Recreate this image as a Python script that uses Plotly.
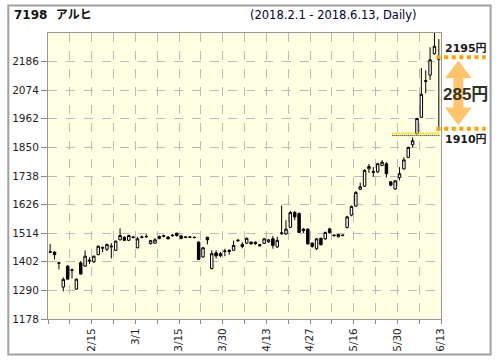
import plotly.graph_objects as go

# ---------------- data ----------------
dates = ["2/1", "2/2", "2/5", "2/6", "2/7", "2/8", "2/9", "2/13", "2/14", "2/15",
         "2/16", "2/19", "2/20", "2/21", "2/22", "2/23", "2/26", "2/27", "2/28",
         "3/1", "3/2", "3/5", "3/6", "3/7", "3/8", "3/9", "3/12", "3/13", "3/14", "3/15",
         "3/16", "3/19", "3/20", "3/22", "3/23", "3/26", "3/27", "3/28", "3/29", "3/30",
         "4/2", "4/3", "4/4", "4/5", "4/6", "4/9", "4/10", "4/11", "4/12", "4/13",
         "4/16", "4/17", "4/18", "4/19", "4/20", "4/23", "4/24", "4/25", "4/26", "4/27",
         "5/1", "5/2", "5/7", "5/8", "5/9", "5/10", "5/11", "5/14", "5/15", "5/16",
         "5/17", "5/18", "5/21", "5/22", "5/23", "5/24", "5/25", "5/28", "5/29", "5/30",
         "5/31", "6/1", "6/4", "6/5", "6/6", "6/7", "6/8", "6/11", "6/12", "6/13"]

opens = [1441, 1440, 1396, 1303, 1385, 1368, 1295, 1398, 1385, 1405,
         1402, 1430, 1455, 1451, 1460, 1447, 1488, 1498, 1486, 1497,
         1457, 1497, 1500, 1473, 1475, 1501, 1502, 1499, 1504, 1514,
         1503, 1497, 1498, 1498, 1479, 1421, 1498, 1376, 1437, 1434,
         1442, 1447, 1447, 1484, 1462, 1475, 1479, 1479, 1469, 1474,
         1480, 1492, 1460, 1512, 1511, 1537, 1595, 1591, 1530, 1530,
         1475, 1453, 1494, 1492, 1531, 1504, 1500, 1505, 1536, 1585,
         1620, 1686, 1698, 1766, 1752, 1754, 1779, 1786, 1715, 1687,
         1732, 1766, 1811, 1860, 1904, 1968, 2108, 2133, 2217, 2196]
highs = [1472, 1443, 1402, 1341, 1389, 1376, 1336, 1405, 1447, 1420,
         1426, 1466, 1462, 1473, 1475, 1485, 1533, 1502, 1508, 1502,
         1500, 1505, 1510, 1487, 1495, 1505, 1508, 1502, 1510, 1516,
         1508, 1502, 1503, 1501, 1482, 1460, 1500, 1447, 1447, 1440,
         1453, 1450, 1485, 1492, 1478, 1497, 1482, 1481, 1472, 1495,
         1490, 1503, 1500, 1622, 1565, 1601, 1601, 1595, 1533, 1533,
         1478, 1495, 1497, 1520, 1535, 1509, 1511, 1509, 1582, 1622,
         1678, 1712, 1765, 1785, 1773, 1790, 1800, 1792, 1718, 1722,
         1773, 1811, 1853, 1889, 1966, 2161, 2152, 2242, 2298, 2274]
lows = [1436, 1411, 1372, 1286, 1333, 1337, 1292, 1353, 1382, 1394,
        1398, 1428, 1440, 1445, 1415, 1445, 1486, 1484, 1484, 1494,
        1455, 1494, 1496, 1470, 1472, 1490, 1498, 1490, 1500, 1500,
        1490, 1495, 1495, 1494, 1410, 1418, 1470, 1372, 1415, 1420,
        1424, 1430, 1445, 1480, 1455, 1472, 1470, 1468, 1462, 1472,
        1477, 1453, 1457, 1508, 1508, 1535, 1565, 1515, 1515, 1470,
        1457, 1449, 1466, 1488, 1512, 1501, 1498, 1502, 1533, 1580,
        1618, 1683, 1695, 1750, 1735, 1750, 1776, 1732, 1698, 1684,
        1721, 1763, 1808, 1850, 1900, 1965, 2062, 2114, 2213, 1915]
closes = [1440, 1430, 1398, 1333, 1334, 1370, 1334, 1354, 1424, 1408,
          1424, 1463, 1458, 1470, 1463, 1483, 1505, 1486, 1505, 1499,
          1492, 1499, 1501, 1485, 1488, 1494, 1504, 1492, 1506, 1505,
          1494, 1499, 1499, 1497, 1411, 1457, 1488, 1434, 1425, 1426,
          1444, 1443, 1466, 1486, 1470, 1494, 1472, 1473, 1465, 1492,
          1488, 1466, 1486, 1515, 1530, 1595, 1578, 1517, 1524, 1472,
          1462, 1492, 1469, 1517, 1516, 1506, 1509, 1506, 1578, 1619,
          1674, 1696, 1760, 1775, 1755, 1786, 1792, 1747, 1702, 1719,
          1747, 1801, 1850, 1876, 1963, 2058, 2111, 2193, 2246, 2195]

tick_labels = ["2/15", "3/1", "3/15", "3/30", "4/13", "4/27", "5/16", "5/30", "6/13"]
y_ticks = [1178, 1290, 1402, 1514, 1626, 1738, 1850, 1962, 2074, 2186]
y_top = 2298
level_high, level_low = 2195, 1910

title_left = "7198\u00a0\u00a0アルヒ"
title_right = "(2018.2.1 - 2018.6.13, Daily)"

# ---------------- figure ----------------
W, H = 496, 364
ML, MR, MT, MB = 45, 55, 33, 41
PW, PH = W - ML - MR, H - MT - MB


def px(xp):
    return (xp - ML) / PW


def py(yp):
    return (H - MB - yp) / PH


x = list(range(len(dates)))

fig = go.Figure()
fig.add_trace(go.Candlestick(
    x=x, open=opens, high=highs, low=lows, close=closes,
    increasing=dict(line=dict(color="black", width=1), fillcolor="white"),
    decreasing=dict(line=dict(color="black", width=1), fillcolor="black"),
    whiskerwidth=0, showlegend=False, hoverinfo="skip",
))

# x ticks: every 5 trading days at candle boundaries, label every 10
tick_pos = [-0.5 + 5 * k for k in range(len(dates) // 5 + 1)]
label_pos = {dates.index(lbl) + 0.5: lbl for lbl in tick_labels}
tick_text = [label_pos.get(p, "") for p in tick_pos]

axis_font = dict(family="DejaVu Sans", size=10.5, color="#222222")
fig.update_xaxes(
    range=[-0.5, len(dates) - 0.5], type="linear",
    tickvals=tick_pos, ticktext=tick_text, tickangle=-90,
    ticks="outside", ticklen=4, tickcolor="#888888",
    showline=True, linecolor="#999999", linewidth=1, mirror=True,
    showgrid=True, gridcolor="#BBBBBB", griddash="dash", gridwidth=1,
    zeroline=False, tickfont=axis_font, rangeslider=dict(visible=False),
    fixedrange=True,
)
fig.update_yaxes(
    range=[y_ticks[0], y_top], tickvals=y_ticks,
    ticks="outside", ticklen=6, tickcolor="#888888",
    showline=True, linecolor="#999999", linewidth=1, mirror=True,
    showgrid=True, gridcolor="#BBBBBB", griddash="dash", gridwidth=1,
    zeroline=False, tickfont=axis_font, fixedrange=True,
)

shapes = []
# outer frame
shapes.append(dict(type="rect", xref="paper", yref="paper",
                   x0=px(5), x1=px(491), y0=py(359), y1=py(5),
                   line=dict(color="#A0A0A0", width=2), layer="above"))
# dotted reference lines near the last close
shapes.append(dict(type="line", xref="paper", yref="paper",
                   x0=px(392), x1=px(440), y0=py(135), y1=py(135),
                   line=dict(color="#F2D400", width=2, dash="2px,1px")))
shapes.append(dict(type="line", xref="paper", yref="paper",
                   x0=px(392), x1=px(440), y0=py(137), y1=py(137),
                   line=dict(color="#111111", width=1, dash="1px,1px")))
# orange dotted level lines
for yp in (57.5, 130):
    shapes.append(dict(type="line", xref="paper", yref="paper",
                       x0=px(436.5), x1=px(486), y0=py(yp), y1=py(yp),
                       line=dict(color="#FFA000", width=4, dash="4px,3.6px")))

# double-headed arrow
cx, top, bot = 458.5, 61, 126.5
hw, sw, hh = 13.5, 5, 18
pts = [(cx, top), (cx + hw, top + hh), (cx + sw, top + hh), (cx + sw, bot - hh),
       (cx + hw, bot - hh), (cx, bot), (cx - hw, bot - hh), (cx - sw, bot - hh),
       (cx - sw, top + hh), (cx - hw, top + hh)]
path = "M " + " L ".join(f"{px(a):.5f},{py(b):.5f}" for a, b in pts) + " Z"
shapes.append(dict(type="path", xref="paper", yref="paper", path=path,
                   fillcolor="#FFB547", opacity=0.8, line=dict(width=0),
                   layer="above"))

annotations = [
    dict(text="<b>" + title_left + "</b>", xref="paper", yref="paper",
         x=px(9), y=py(15), xanchor="left", yanchor="middle", showarrow=False,
         font=dict(family="DejaVu Sans, Noto Sans CJK JP", size=12, color="#111111")),
    dict(text=title_right, xref="paper", yref="paper",
         x=px(246.5), y=py(15), xanchor="left", yanchor="middle", showarrow=False,
         font=dict(family="DejaVu Sans", size=11.5, color="#000033")),
    dict(text=f"<b>{level_high}円</b>", xref="paper", yref="paper",
         x=px(443), y=py(49), xanchor="left", yanchor="middle", showarrow=False,
         font=dict(family="DejaVu Sans, Noto Sans CJK JP", size=11, color="#1a1a1a")),
    dict(text=f"<b>{level_low}円</b>", xref="paper", yref="paper",
         x=px(443), y=py(141), xanchor="left", yanchor="middle", showarrow=False,
         font=dict(family="DejaVu Sans, Noto Sans CJK JP", size=11, color="#1a1a1a")),
    dict(text=f"<b>{level_high - level_low}円</b>", xref="paper", yref="paper",
         x=px(466), y=py(95), xanchor="center", yanchor="middle", showarrow=False,
         font=dict(family="Liberation Sans, Noto Sans CJK JP", size=17, color="#333322")),
]

fig.update_layout(
    width=W, height=H,
    margin=dict(l=ML, r=MR, t=MT, b=MB, pad=0),
    paper_bgcolor="white", plot_bgcolor="#FEFEE2",
    boxgap=0.2,
    shapes=shapes, annotations=annotations, showlegend=False,
)

fig.write_html("out.html", config={"displayModeBar": False},
               post_script="document.body.style.margin='0';")
